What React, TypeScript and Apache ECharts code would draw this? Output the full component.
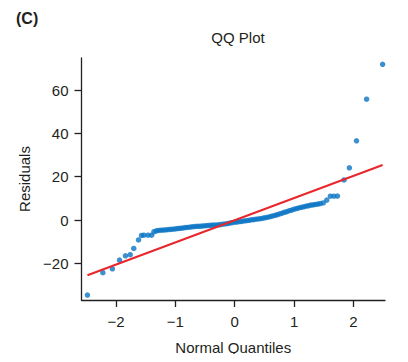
import React, { useEffect, useRef } from "react";
import * as echarts from "echarts";

// Sample (normal) quantiles and residuals
const quantiles: number[] = [
  -2.48, -2.22, -2.06, -1.94, -1.84, -1.76, -1.70, -1.62, -1.57, -1.53, -1.46, -1.40, -1.36,
  -1.32, -1.28, -1.24, -1.20, -1.16, -1.12, -1.08, -1.04, -1.00, -0.96, -0.92, -0.88, -0.84,
  -0.80, -0.76, -0.72, -0.68, -0.64, -0.60, -0.56, -0.52, -0.48, -0.44, -0.40, -0.36, -0.32,
  -0.28, -0.24, -0.20, -0.16, -0.12, -0.08, -0.04, 0.00, 0.04, 0.08, 0.12, 0.16, 0.20, 0.24,
  0.28, 0.32, 0.36, 0.40, 0.44, 0.48, 0.52, 0.56, 0.60, 0.64, 0.68, 0.72, 0.76, 0.80, 0.84,
  0.88, 0.92, 0.96, 1.00, 1.04, 1.08, 1.12, 1.16, 1.20, 1.24, 1.28, 1.32, 1.36, 1.40, 1.44,
  1.49, 1.55, 1.61, 1.67, 1.73, 1.84, 1.93, 2.05, 2.22, 2.49,
];
const residuals: number[] = [
  -34.6, -24.3, -22.5, -18.5, -16.5, -16.0, -13.1, -9.2, -7.1, -7.0, -7.0, -7.0, -5.4,
  -5.0, -4.8, -4.7, -4.6, -4.5, -4.4, -4.3, -4.2, -4.1, -3.9, -3.8, -3.7, -3.5,
  -3.4, -3.3, -3.1, -3.0, -2.9, -2.9, -2.8, -2.7, -2.6, -2.5, -2.4, -2.3, -2.3,
  -2.2, -2.1, -1.9, -1.8, -1.6, -1.4, -1.2, -1.0, -0.9, -0.7, -0.6, -0.4, -0.3, -0.1,
  0.1, 0.2, 0.4, 0.5, 0.7, 0.9, 1.1, 1.3, 1.6, 1.9, 2.2, 2.5, 2.9, 3.2, 3.6,
  3.9, 4.3, 4.6, 5.0, 5.3, 5.6, 5.9, 6.1, 6.4, 6.6, 6.9, 7.0, 7.2, 7.4, 7.6,
  7.9, 9.2, 11.0, 11.0, 11.1, 18.5, 24.1, 36.6, 55.8, 71.9,
];

// Reference line endpoints
const lineX: number[] = [-2.48, 2.49];
const lineY: number[] = [-25.5, 25.4];

const xTicks: number[] = [-2, -1, 0, 1, 2];
const yTicks: number[] = [-20, 0, 20, 40, 60];

const FONT = "'Liberation Sans', Arial, Helvetica, sans-serif";
const INK = "#231f20";

const fmt = (v: number) => String(v).replace("-", "\u2212");

export default function App() {
  const ref = useRef<HTMLDivElement>(null);

  useEffect(() => {
    if (!ref.current) return;
    const chart = echarts.init(ref.current, undefined, { renderer: "svg" });
    const axisCommon = {
      type: "value" as const,
      splitLine: { show: false },
      axisLine: { show: true, onZero: false, lineStyle: { color: INK, width: 1.3 } },
    };
    chart.setOption({
      animation: false,
      backgroundColor: "#ffffff",
      textStyle: { fontFamily: FONT },
      title: [
        {
          text: "(C)",
          left: 11,
          top: 5,
          textStyle: { fontFamily: FONT, fontSize: 16, fontWeight: "bold", color: INK },
        },
        {
          text: "QQ Plot",
          left: 233,
          top: 25,
          textAlign: "center",
          textStyle: { fontFamily: FONT, fontSize: 15, fontWeight: "normal", color: INK },
        },
      ],
      grid: { left: 81.5, right: 23, top: 58, bottom: 62, containLabel: false },
      xAxis: {
        ...axisCommon,
        min: -2.58,
        max: 2.53,
        name: "Normal Quantiles",
        nameLocation: "middle",
        nameGap: 40,
        nameTextStyle: { fontFamily: FONT, fontSize: 15, color: INK },
        axisTick: { show: true, length: 7, customValues: xTicks, lineStyle: { color: INK, width: 1.3 } },
        axisLabel: {
          customValues: xTicks,
          margin: 14,
          fontFamily: FONT,
          fontSize: 15,
          color: INK,
          formatter: (v: number) => fmt(v),
        },
      },
      yAxis: {
        ...axisCommon,
        min: -36.9,
        max: 74.8,
        name: "Residuals",
        nameLocation: "middle",
        nameGap: 49,
        nameTextStyle: { fontFamily: FONT, fontSize: 15, color: INK },
        axisTick: { show: true, length: 7, customValues: yTicks, lineStyle: { color: INK, width: 1.3 } },
        axisLabel: {
          customValues: yTicks,
          margin: 13,
          fontFamily: FONT,
          fontSize: 15,
          color: INK,
          formatter: (v: number) => fmt(v),
        },
      },
      series: [
        {
          type: "scatter",
          data: quantiles.map((q, i) => [q, residuals[i]]),
          symbol: "circle",
          symbolSize: 5.5,
          itemStyle: { color: "#0a74c4" },
          z: 2,
        },
        {
          type: "line",
          data: lineX.map((x, i) => [x, lineY[i]]),
          symbol: "none",
          lineStyle: { color: "#e8262b", width: 2 },
          z: 3,
        },
      ],
    });
    return () => chart.dispose();
  }, []);

  return <div ref={ref} style={{ width: 408, height: 362, margin: -8 }} />;
}
